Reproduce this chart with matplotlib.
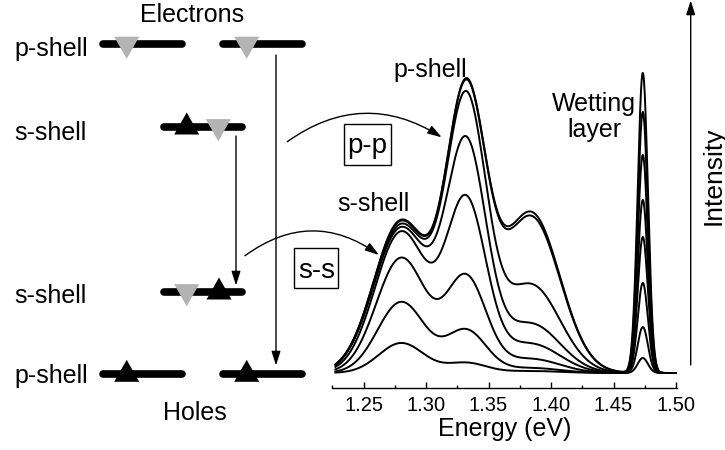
import numpy as np
import matplotlib
matplotlib.use("Agg")
import matplotlib.pyplot as plt
from matplotlib.patches import Polygon, Rectangle, FancyArrowPatch

plt.rcParams['font.family'] = ['Liberation Sans', 'DejaVu Sans']

# PL spectra, 8 excitation powers (lowest -> highest)
# peak heights (arbitrary units, baseline = 0)
peak_center = {'s': 1.2802, 'p': 1.3321, 'd': 1.384, 'wl': 1.4734}
s_width = [0.018, 0.019, 0.020, 0.021, 0.022, 0.022, 0.022, 0.022]
p_width = 0.016
d_width = 0.023
wl_width = 0.0041
s_height = [30, 71, 115, 141, 145, 148, 151, 152]
p_height = [10, 42, 94, 169, 224, 266, 272, 273]
d_height = [2, 5, 14, 29, 49, 88, 156, 160]
wl_height = [15, 46, 90, 136, 173, 218, 261, 300]

xticks = [1.25, 1.30, 1.35, 1.40, 1.45, 1.50]
xticklabels = ['1.25', '1.30', '1.35', '1.40', '1.45', '1.50']


def gauss(x, x0, w, h):
    return h * np.exp(-(x - x0) ** 2 / (2 * w ** 2))


W, H = 725, 450
fig = plt.figure(figsize=(W / 100, H / 100), dpi=100)

# spectrum axes (1 data unit in y = 1 pixel)
ax = fig.add_axes([332.3 / W, 1 - 388 / H, 345 / W, (388 - 60) / H])
ax.set_xlim(1.225, 1.501)
ax.set_ylim(-15, 313)

energy = np.linspace(1.2275, 1.4995, 1500)
for i in range(len(s_height)):
    spec = (gauss(energy, peak_center['s'], s_width[i], s_height[i])
            + gauss(energy, peak_center['p'], p_width, p_height[i])
            + gauss(energy, peak_center['d'], d_width, d_height[i])
            + gauss(energy, peak_center['wl'], wl_width, wl_height[i]))
    ax.plot(energy, spec, color='black', lw=1.4)

for s in ['top', 'left', 'right']:
    ax.spines[s].set_visible(False)
ax.spines['bottom'].set_linewidth(1.0)
ax.set_yticks([])
ax.set_xticks(xticks)
ax.set_xticklabels(xticklabels, fontsize=14.5)
ax.set_xticks(np.arange(1.225, 1.51, 0.025), minor=True)
ax.tick_params(axis='x', which='major', direction='in', length=4.3, width=1.0, pad=5.5)
ax.tick_params(axis='x', which='minor', direction='in', length=2.4, width=1.0)
ax.set_xlabel('Energy (eV)', fontsize=18, labelpad=1.5)
ax.patch.set_alpha(0)

# overlay in pixel coordinates for the level diagram and annotations
ov = fig.add_axes([0, 0, 1, 1])
ov.set_xlim(0, W)
ov.set_ylim(H, 0)
ov.axis('off')
ov.patch.set_alpha(0)

gray = '#b3b3b3'


def level(x0, x1, y):
    ov.plot([x0 + 3.5, x1 - 3.5], [y, y], color='black', lw=5.5,
            solid_capstyle='round', zorder=2)


def tri(x, y, up, color):
    hw = 12.5
    if up:
        pts = [(x - hw, y + 7.8), (x + hw, y + 7.8), (x, y - 14.2)]
    else:
        pts = [(x - hw, y - 7.6), (x + hw, y - 7.6), (x, y + 14.6)]
    ov.add_patch(Polygon(pts, closed=True, color=color, lw=0, zorder=3))


# electron p-shell
level(100, 186, 44.3)
level(220, 306, 44.3)
tri(126.7, 44.3, False, gray)
tri(246.7, 44.3, False, gray)
# electron s-shell
level(161, 246, 126.7)
tri(186.7, 126.7, True, 'black')
tri(218.3, 126.7, False, gray)
# hole s-shell
level(161, 246, 291.7)
tri(186.7, 291.7, False, gray)
tri(219, 291.7, True, 'black')
# hole p-shell
level(100, 186, 374)
level(220, 306, 374)
tri(126.7, 374, True, 'black')
tri(246.7, 374, True, 'black')

fs = 18
ov.text(191.7, 21.7, 'Electrons', fontsize=fs, ha='center', va='baseline')
ov.text(195, 420, 'Holes', fontsize=fs, ha='center', va='baseline')
ov.text(14, 55.7, 'p-shell', fontsize=fs, ha='left', va='baseline')
ov.text(14, 140, 's-shell', fontsize=fs, ha='left', va='baseline')
ov.text(14, 302.7, 's-shell', fontsize=fs, ha='left', va='baseline')
ov.text(14, 383, 'p-shell', fontsize=fs, ha='left', va='baseline')

ov.text(430, 77.3, 'p-shell', fontsize=fs, ha='center', va='baseline')
ov.text(373.3, 211, 's-shell', fontsize=fs, ha='center', va='baseline')
ov.text(593.5, 111, 'Wetting', fontsize=fs, ha='center', va='baseline')
ov.text(594.5, 136.7, 'layer', fontsize=fs, ha='center', va='baseline')
ov.text(720.5, 175.7, 'Intensity', fontsize=19, rotation=90,
        rotation_mode='anchor', ha='center', va='baseline')

# boxed transition labels
ov.add_patch(Rectangle((344.3, 124.3), 46.4, 40.7, fill=False, lw=1.0, ec='black'))
ov.text(367.2, 153.3, 'p-p', fontsize=20, ha='center', va='baseline')
ov.add_patch(Rectangle((294.3, 248.3), 43.4, 40, fill=False, lw=1.0, ec='black'))
ov.text(316.3, 277.7, 's-s', fontsize=20, ha='center', va='baseline')


def arrow(p0, p1, rad=0.0):
    ov.add_patch(FancyArrowPatch(p0, p1, arrowstyle='-|>,head_length=0.85,head_width=0.27',
                                 mutation_scale=10, connectionstyle=f'arc3,rad={rad}',
                                 color='black', lw=1.0, shrinkA=0, shrinkB=0, zorder=4))


arrow((236, 136), (236, 285.5))
arrow((276, 55), (276, 365.5))
arrow((690.7, 365), (690.7, 0.5))
arrow((287.3, 141.7), (441.7, 137.3), rad=-0.335)
arrow((245, 255.7), (379, 255), rad=-0.36)

fig.savefig('out.png', dpi=100)
